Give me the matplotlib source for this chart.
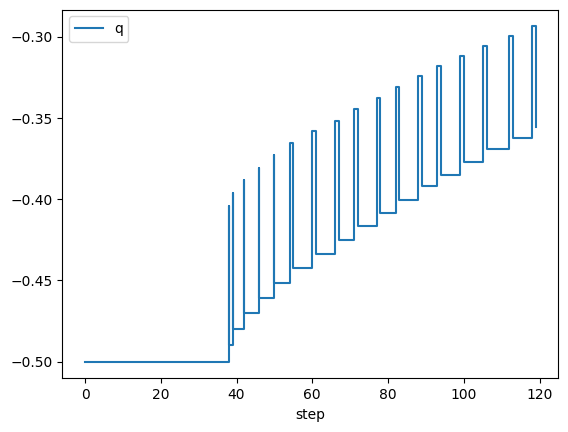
import matplotlib
matplotlib.use('Agg')
import matplotlib.pyplot as plt
import pandas as pd

# q stays at the start level, then jumps up at each event and settles a bit higher
start_level = -0.5
event_start = [38, 39, 42, 46, 50, 54, 60, 66, 71, 77, 82, 88, 93, 99, 105, 112, 118]
event_end   = [38, 39, 42, 46, 50, 55, 61, 67, 72, 78, 83, 89, 94, 100, 106, 113, 119]
peak = [-0.4043, -0.3962, -0.3881, -0.3807, -0.3727, -0.3655, -0.3581, -0.3516,
        -0.3442, -0.3375, -0.3307, -0.3240, -0.3178, -0.3117, -0.3055, -0.2994, -0.2935]
level = [-0.4899, -0.4797, -0.4700, -0.4609, -0.4515, -0.4425, -0.4339, -0.4253,
         -0.4167, -0.4087, -0.4003, -0.3921, -0.3848, -0.3768, -0.3692, -0.3620, -0.3553]

# log records (several q entries may share one step)
step = [0]
q = [start_level]
prev = start_level
for s, e, p, l in zip(event_start, event_end, peak, level):
    step += [s, s, e, e]
    q += [prev, p, p, l]
    prev = l

df = pd.DataFrame({'step': step, 'q': q})

fig, ax = plt.subplots(figsize=(5.68, 4.32), dpi=100)
fig.subplots_adjust(left=0.110, right=0.983, top=0.978, bottom=0.124)
df.plot(x='step', y='q', ax=ax)
ax.legend(loc='upper left')
fig.savefig('out.png')
